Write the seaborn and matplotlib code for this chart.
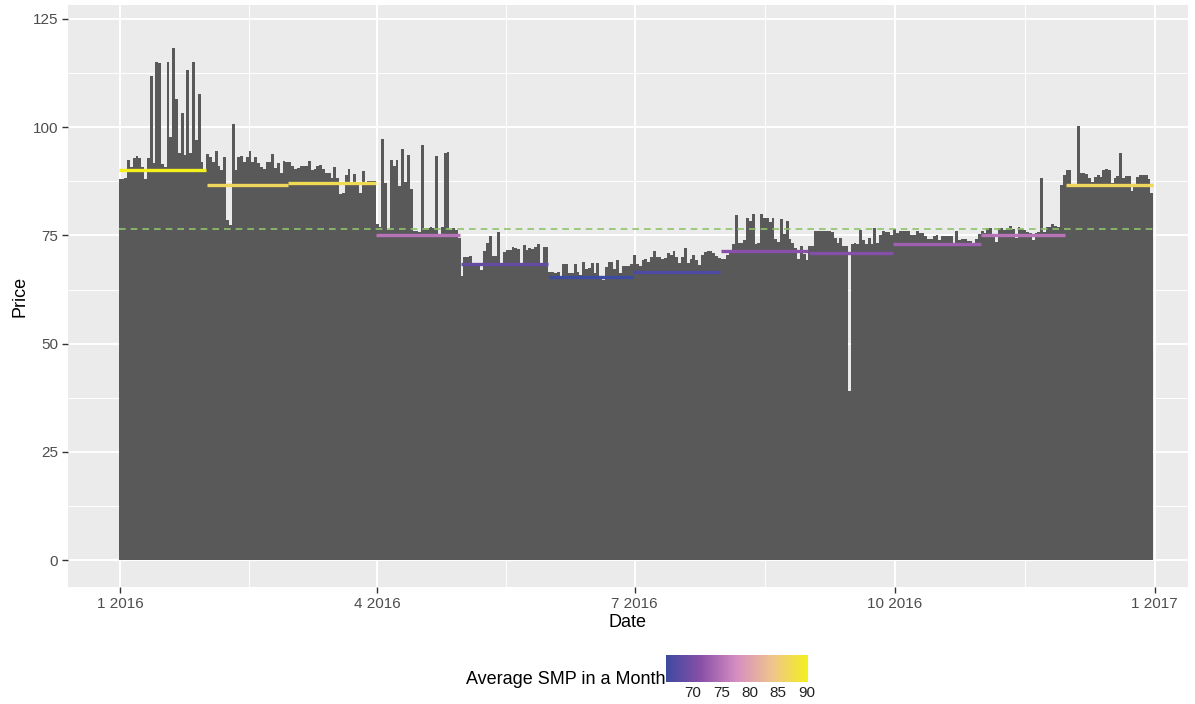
import numpy as np
import pandas as pd
import matplotlib
matplotlib.use("Agg")
import matplotlib.pyplot as plt
import matplotlib.dates as mdates
from matplotlib.colors import LinearSegmentedColormap, Normalize
from matplotlib.cm import ScalarMappable
import seaborn as sns

# daily price, one list per month (2016)
jan = [88.0, 88.0, 88.3, 92.3, 90.8, 92.8, 93.4, 92.8, 90.8, 88.0, 92.8, 111.8, 91.7, 115.1, 114.7, 91.5,
       90.7, 115.1, 97.7, 118.2, 106.4, 94.0, 103.2, 93.6, 113.1, 94.0, 115.1, 97.1, 107.7, 92.0, 90.0]
feb = [93.8, 93.0, 92.0, 94.4, 91.0, 90.1, 93.0, 78.5, 77.3, 100.7, 90.0, 93.0, 93.3, 91.9, 93.0, 94.5,
       91.9, 93.0, 91.7, 90.9, 90.3, 91.9, 91.9, 93.8, 90.6, 91.7, 89.4, 92.2, 91.9]
mar = [91.9, 91.1, 90.3, 90.6, 91.1, 91.0, 91.1, 92.2, 90.1, 90.3, 91.1, 91.3, 90.4, 89.4, 89.3, 88.3,
       90.7, 88.3, 84.6, 84.7, 89.0, 90.3, 87.2, 89.1, 87.2, 84.9, 89.8, 87.2, 87.6, 87.6, 87.5]
apr = [77.6, 77.0, 97.3, 87.2, 76.2, 92.4, 91.0, 92.3, 86.4, 94.9, 87.3, 93.5, 85.6, 76.0, 76.0, 75.7,
       95.8, 76.6, 76.7, 76.9, 76.6, 93.3, 74.6, 76.9, 94.0, 94.3, 76.2, 76.7, 76.2, 74.3]
may = [65.6, 69.9, 70.1, 70.2, 68.5, 68.5, 68.5, 66.9, 71.5, 73.2, 74.9, 70.2, 70.2, 75.8, 67.9, 71.2,
       71.6, 71.6, 72.4, 72.2, 71.9, 68.5, 72.7, 71.6, 72.1, 71.9, 72.4, 72.9, 68.5, 72.4, 72.4]
jun = [66.5, 66.5, 66.4, 66.5, 65.2, 68.3, 68.3, 66.4, 66.4, 68.3, 66.5, 65.8, 68.8, 67.3, 67.4, 68.6,
       66.4, 68.6, 65.2, 64.7, 67.6, 68.8, 68.9, 67.3, 69.2, 66.4, 67.9, 67.9, 67.9, 68.5]
jul = [70.5, 68.5, 67.9, 69.3, 69.5, 68.9, 69.9, 71.5, 69.9, 69.9, 69.5, 69.7, 70.9, 70.4, 71.5, 69.9,
       68.7, 70.0, 72.0, 68.6, 69.5, 70.4, 69.3, 68.2, 70.5, 71.1, 71.3, 71.5, 71.0, 70.3, 69.7]
aug = [69.5, 69.5, 70.5, 71.6, 73.1, 79.7, 73.2, 73.2, 73.9, 79.1, 78.3, 79.9, 73.1, 73.2, 79.9, 79.0,
       78.9, 78.1, 78.9, 74.1, 73.5, 78.7, 75.4, 78.3, 74.1, 73.2, 72.0, 69.6, 72.6, 70.7, 69.2]
sep = [72.6, 72.5, 76.1, 76.0, 76.0, 76.0, 76.0, 76.0, 75.7, 74.5, 73.3, 74.5, 72.6, 72.6, 39.0, 73.1,
       73.3, 73.1, 76.2, 73.9, 72.9, 74.4, 73.1, 76.7, 73.3, 75.0, 76.0, 75.7, 75.7, 75.0]
oct_ = [76.4, 75.6, 76.0, 76.0, 76.0, 75.9, 75.2, 75.2, 76.0, 75.5, 75.5, 74.9, 74.1, 74.1, 74.9, 75.1,
        73.9, 74.9, 74.9, 74.9, 74.9, 73.3, 75.9, 73.9, 74.2, 74.2, 73.6, 73.6, 72.8, 74.1, 75.4]
nov = [76.0, 75.5, 76.6, 76.6, 74.9, 73.5, 76.6, 76.6, 76.3, 76.6, 77.2, 76.4, 74.4, 77.0, 76.4, 76.2,
       75.7, 75.6, 73.9, 75.6, 75.8, 88.3, 75.8, 76.9, 76.9, 77.6, 77.1, 76.9, 86.6, 88.9]
dec = [90.0, 90.0, 86.9, 86.9, 100.3, 89.3, 89.3, 89.2, 88.3, 87.4, 88.5, 89.0, 88.5, 90.2, 90.4, 90.0,
       87.2, 88.3, 88.6, 94.1, 88.3, 88.8, 88.7, 85.3, 86.2, 88.4, 88.9, 89.0, 88.9, 88.0, 84.9]

# average SMP per month
month_avg = [90.2, 86.6, 87.2, 75.1, 68.4, 65.3, 66.6, 71.3, 70.9, 73.1, 75.2, 86.6]

tick_dates = ["2016-01-01", "2016-04-01", "2016-07-01", "2016-10-01", "2017-01-01"]
tick_labels = ["1 2016", "4 2016", "7 2016", "10 2016", "1 2017"]
cbar_ticks = [70, 75, 80, 85, 90]

price = jan + feb + mar + apr + may + jun + jul + aug + sep + oct_ + nov + dec
dates = pd.date_range("2016-01-01", periods=len(price), freq="D")
df = pd.DataFrame({"Date": dates, "Price": price})
df["month"] = df["Date"].dt.month
overall = np.mean(month_avg)

sns.set_theme(style="darkgrid", rc={
    "axes.facecolor": "#EBEBEB",
    "grid.color": "white",
    "axes.edgecolor": "#EBEBEB",
})
plt.rcParams["font.family"] = ["Liberation Sans", "DejaVu Sans"]

cmap = LinearSegmentedColormap.from_list(
    "smp", ["#3C4A9F", "#8B50A8", "#D68EC2", "#EFC48C", "#F3F01E"])
norm = Normalize(vmin=min(month_avg), vmax=max(month_avg))

fig = plt.figure(figsize=(11.95, 7.04), dpi=100)
ax = fig.add_axes([68 / 1195, 1 - 587 / 704, 1120 / 1195, 582 / 704])

ax.bar(df["Date"], df["Price"], width=1.0, color="#595959", linewidth=0, zorder=2)

# monthly average segments
for m in range(1, 13):
    sub = df[df["month"] == m]
    x0 = mdates.date2num(sub["Date"].iloc[0]) - 0.4
    x1 = mdates.date2num(sub["Date"].iloc[-1]) + 0.4
    ax.hlines(month_avg[m - 1], x0, x1, color=cmap(norm(month_avg[m - 1])),
              linewidth=2.4, zorder=3)

# overall average
ax.plot([mdates.date2num(dates[0]) - 0.5, mdates.date2num(dates[-1]) + 0.5],
        [overall, overall], color="#8DC46A", linestyle=(0, (4, 3)), linewidth=1.2, zorder=3)

x_start = mdates.date2num(pd.Timestamp("2016-01-01"))
ax.set_xlim(x_start - 18.4, x_start + 377.8)
ax.set_ylim(-6.2, 128.2)

ax.set_xticks([mdates.date2num(pd.Timestamp(d)) for d in tick_dates])
ax.set_xticklabels(tick_labels)
major_x = [mdates.date2num(pd.Timestamp(d)) for d in tick_dates]
ax.set_xticks([(a + b) / 2 for a, b in zip(major_x[:-1], major_x[1:])], minor=True)
ax.set_yticks([0, 25, 50, 75, 100, 125])
ax.set_yticks([12.5, 37.5, 62.5, 87.5, 112.5], minor=True)

ax.grid(which="major", color="white", linewidth=1.4)
ax.grid(which="minor", color="white", linewidth=0.7)
ax.set_axisbelow(True)
for s in ax.spines.values():
    s.set_visible(False)

ax.tick_params(axis="both", which="major", length=4, width=1, color="#333333",
               labelsize=11, labelcolor="#4D4D4D", pad=3)
ax.tick_params(axis="both", which="minor", length=0)
ax.tick_params(axis="x", bottom=True)
ax.tick_params(axis="y", left=True)

ax.set_xlabel("Date", fontsize=13, color="black")
ax.set_ylabel("Price", fontsize=13, color="black")
ax.xaxis.set_label_coords(0.5, (587 - 614) / 582)
ax.yaxis.set_label_coords((29 - 68) / 1120, 0.5)

# colourbar legend
cax = fig.add_axes([666 / 1195, 22 / 704, 142 / 1195, 27 / 704])
cb = fig.colorbar(ScalarMappable(norm=norm, cmap=cmap), cax=cax,
                  orientation="horizontal", ticks=cbar_ticks)
cb.outline.set_visible(False)
cax.tick_params(axis="x", direction="in", color="white", length=5, width=1,
                labelsize=11, labelcolor="#222222", pad=3, top=True, bottom=True)
cax.grid(False)
fig.text(665 / 1195, 1 - 679 / 704, "Average SMP in a Month", ha="right", va="center",
         fontsize=13, color="black")

fig.savefig("out.png", dpi=100)
